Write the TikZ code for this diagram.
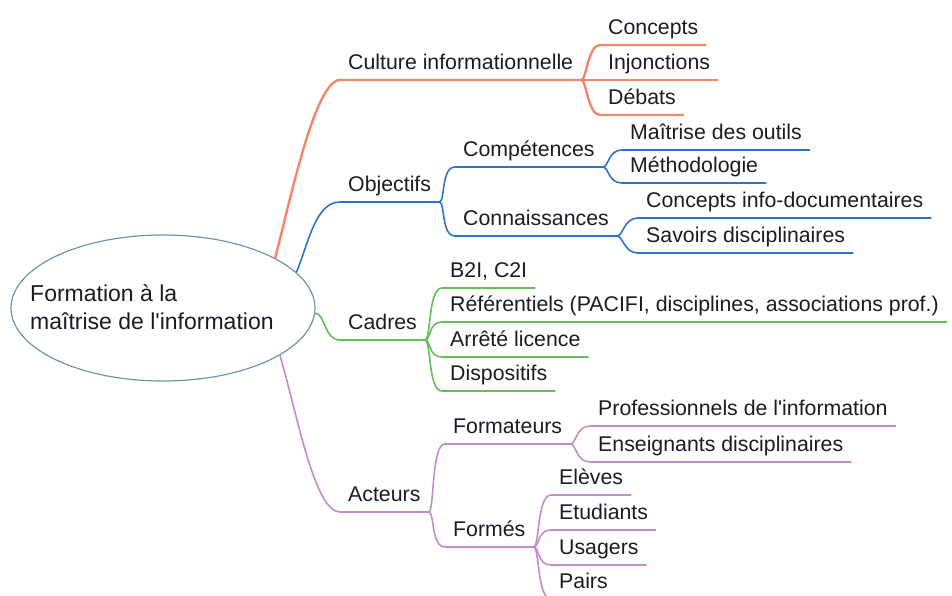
\documentclass[tikz,border=0pt]{standalone}
\usepackage{amsmath}
\usepackage{fontspec}
\newfontfamily\mapfont{Liberation Sans}
\usetikzlibrary{shapes.geometric}

\begin{document}
\begin{tikzpicture}[x=1pt,y=1pt,yscale=-1,xscale=1,
  topic/.style={anchor=south west,inner xsep=8,inner ysep=10,text depth=0pt,text={rgb, 255:red, 25; green, 28; blue, 38 },font=\mapfont\fontsize{21.3}{26}\selectfont},
  orangeline/.style={draw={rgb, 255:red, 243; green, 135; blue, 105 },line width=2.4},
  blueline/.style={draw={rgb, 255:red, 45; green, 115; blue, 205 },line width=1.6},
  greenline/.style={draw={rgb, 255:red, 100; green, 190; blue, 90 },line width=1.6},
  purpleline/.style={draw={rgb, 255:red, 195; green, 140; blue, 205 },line width=1.6}]
\useasboundingbox (0,0) rectangle (952,596);

%Ellipse
\node [ellipse,draw={rgb, 255:red, 110; green, 150; blue, 170 },line width=1.2,minimum width=304,minimum height=146,inner sep=0] (root) at (163,308) {};
% Text Node
\node [anchor=west,inner sep=0,align=left,text={rgb, 255:red, 25; green, 28; blue, 38 },font=\mapfont\fontsize{23}{28}\selectfont] (roottxt) at (30,307) {Formation à la\\maîtrise de l'information};

% Text Node
\node [topic] (cult) at (340,80) {Culture informationnelle};
\node [topic] (conc) at (600,45) {Concepts};
\node [topic] (injo) at (600,80) {Injonctions};
\node [topic] (deba) at (600,115) {Débats};
% Text Node
\node [topic] (obj) at (340,202) {Objectifs};
\node [topic] (comp) at (455,167) {Compétences};
\node [topic] (conn) at (455,236) {Connaissances};
\node [topic] (mait) at (622,150) {Maîtrise des outils};
\node [topic] (meth) at (622,183) {Méthodologie};
\node [topic] (cinf) at (638,218) {Concepts info-documentaires};
\node [topic] (savo) at (638,253) {Savoirs disciplinaires};
% Text Node
\node [topic] (cadr) at (340,340) {Cadres};
\node [topic] (b2i) at (442,288) {B2I, C2I};
\node [topic] (refe) at (442,322) {Référentiels (PACIFI, disciplines, associations prof.)};
\node [topic] (arre) at (442,357) {Arrêté licence};
\node [topic] (disp) at (442,391) {Dispositifs};
% Text Node
\node [topic] (acte) at (340,512) {Acteurs};
\node [topic] (fmat) at (445,444) {Formateurs};
\node [topic] (fmes) at (445,547) {Formés};
\node [topic] (prof) at (590,426) {Professionnels de l'information};
\node [topic] (ense) at (590,462) {Enseignants disciplinaires};
\node [topic] (elev) at (551,495) {Elèves};
\node [topic] (etud) at (551,530) {Etudiants};
\node [topic] (usag) at (551,565) {Usagers};
\node [topic] (pair) at (551,599) {Pairs};

%Curve Lines
\draw [orangeline] (root.24) .. controls +(15,-57) and +(-25,0) .. (cult.south west) -- (cult.south east) ;
\draw [orangeline] (cult.south east) .. controls +(5,0) and +(-12,0) .. (conc.south west) -- (conc.south east) ;
\draw [orangeline] (cult.south east) -- (injo.south west) -- (injo.south east) ;
\draw [orangeline] (cult.south east) .. controls +(5,0) and +(-12,0) .. (deba.south west) -- (deba.south east) ;
%Curve Lines
\draw [blueline] (root.15) .. controls +(12,-28) and +(-25,0) .. (obj.south west) -- (obj.south east) ;
\draw [blueline] (obj.south east) .. controls +(6,0) and +(-14,0) .. (comp.south west) -- (comp.south east) ;
\draw [blueline] (obj.south east) .. controls +(6,0) and +(-14,0) .. (conn.south west) -- (conn.south east) ;
\draw [blueline] (comp.south east) .. controls +(6,0) and +(-14,0) .. (mait.south west) -- (mait.south east) ;
\draw [blueline] (comp.south east) .. controls +(6,0) and +(-14,0) .. (meth.south west) -- (meth.south east) ;
\draw [blueline] (conn.south east) .. controls +(6,0) and +(-14,0) .. (cinf.south west) -- (cinf.south east) ;
\draw [blueline] (conn.south east) .. controls +(6,0) and +(-14,0) .. (savo.south west) -- (savo.south east) ;
%Curve Lines
\draw [greenline] (root.-2) .. controls +(10,0) and +(-16,0) .. (cadr.south west) -- (cadr.south east) ;
\draw [greenline] (cadr.south east) .. controls +(6,0) and +(-14,0) .. (b2i.south west) -- (b2i.south east) ;
\draw [greenline] (cadr.south east) .. controls +(6,0) and +(-14,0) .. (refe.south west) -- (refe.south east) ;
\draw [greenline] (cadr.south east) .. controls +(6,0) and +(-14,0) .. (arre.south west) -- (arre.south east) ;
\draw [greenline] (cadr.south east) .. controls +(6,0) and +(-14,0) .. (disp.south west) -- (disp.south east) ;
%Curve Lines
\draw [purpleline] (root.-22) .. controls +(18,63) and +(-25,0) .. (acte.south west) -- (acte.south east) ;
\draw [purpleline] (acte.south east) .. controls +(6,0) and +(-14,0) .. (fmat.south west) -- (fmat.south east) ;
\draw [purpleline] (acte.south east) .. controls +(6,0) and +(-14,0) .. (fmes.south west) -- (fmes.south east) ;
\draw [purpleline] (fmat.south east) .. controls +(6,0) and +(-14,0) .. (prof.south west) -- (prof.south east) ;
\draw [purpleline] (fmat.south east) .. controls +(6,0) and +(-14,0) .. (ense.south west) -- (ense.south east) ;
\draw [purpleline] (fmes.south east) .. controls +(6,0) and +(-14,0) .. (elev.south west) -- (elev.south east) ;
\draw [purpleline] (fmes.south east) .. controls +(6,0) and +(-14,0) .. (etud.south west) -- (etud.south east) ;
\draw [purpleline] (fmes.south east) .. controls +(6,0) and +(-14,0) .. (usag.south west) -- (usag.south east) ;
\draw [purpleline] (fmes.south east) .. controls +(6,0) and +(-14,0) .. (pair.south west) -- (pair.south east) ;

\end{tikzpicture}
\end{document}
